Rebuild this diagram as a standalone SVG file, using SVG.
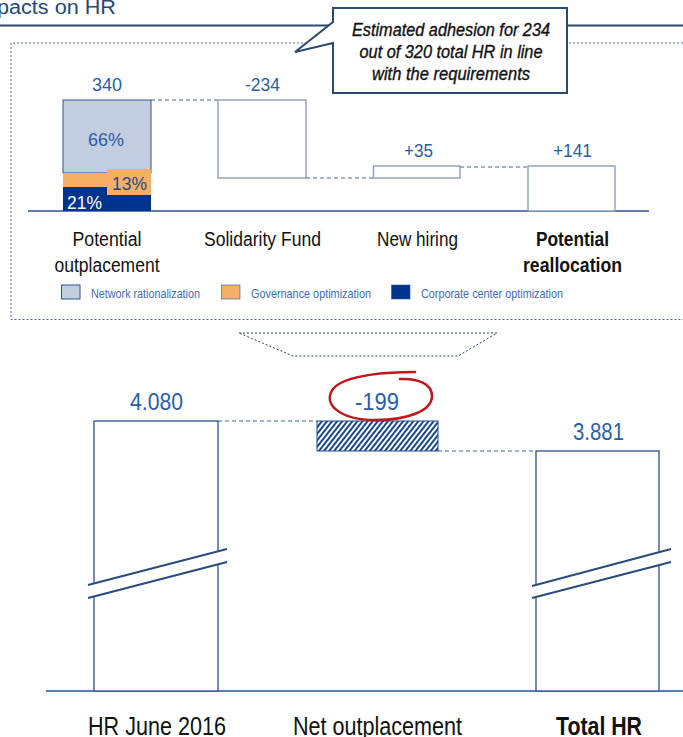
<svg xmlns="http://www.w3.org/2000/svg" width="683" height="737" viewBox="0 0 683 737">
<style>
text{font-family:"Liberation Sans",Arial,sans-serif}
.num{fill:#2a5ea6;text-anchor:middle}
.cat{fill:#111;text-anchor:middle}
.leg{fill:#3d6db3;font-size:13px}
.call{fill:#111;font-size:18px;font-style:italic;text-anchor:middle;stroke:#111;stroke-width:0.35}
.dash{fill:none;stroke:#7f9cc4;stroke-width:1.5;stroke-dasharray:4 3}
.ubar{fill:#fff;stroke:#8397b6;stroke-width:1.3}
.lbar{fill:#fff;stroke:#2e5090;stroke-width:1.3}
.brk{fill:none;stroke:#2a4b7c;stroke-width:2}
</style>
<defs>
<pattern id="hatch" width="4" height="4" patternUnits="userSpaceOnUse" patternTransform="rotate(38)">
<rect width="4" height="4" fill="#fff"/>
<line x1="1" y1="0" x2="1" y2="4" stroke="#0d3d85" stroke-width="1.9"/>
</pattern>
</defs>

<g id="title">
<text x="-3" y="13.5" font-size="19.5" fill="#244a75" textLength="119" lengthAdjust="spacingAndGlyphs">pacts on HR</text>
<line x1="0" y1="25.5" x2="330" y2="25.5" stroke="#2a4b6e" stroke-width="2"/>
<line x1="567" y1="25.5" x2="683" y2="25.5" stroke="#2a4b6e" stroke-width="2"/>
</g>

<g id="detail-frame">
<path d="M683,43 H11 V319.5 H683" fill="none" stroke="#4d6f9a" stroke-width="1" stroke-dasharray="2 2"/>
</g>

<g id="callout">
<path d="M333,8 H567 V93 H333 V43 L295,52 L333,22 Z" fill="#fff" stroke="#2a4b6e" stroke-width="2" stroke-linejoin="miter"/>
<text class="call" x="451" y="36" textLength="198" lengthAdjust="spacingAndGlyphs">Estimated adhesion for 234</text>
<text class="call" x="451" y="58" textLength="183" lengthAdjust="spacingAndGlyphs">out of 320 total HR in line</text>
<text class="call" x="451" y="80" textLength="158" lengthAdjust="spacingAndGlyphs">with the requirements</text>
</g>

<g id="connectors">
<path class="dash" d="M151,100 H218"/>
<path class="dash" d="M306,178 H373"/>
<path class="dash" d="M460,167 H528"/>
<path class="dash" d="M218,421 H317"/>
<path class="dash" d="M438,451 H536"/>
<line x1="28" y1="211" x2="649" y2="211" stroke="#2f5597" stroke-width="1.5"/>
<line x1="46" y1="691" x2="683" y2="691" stroke="#5b80b8" stroke-width="2"/>
</g>

<g id="potential-outplacement">
<rect x="63" y="100" width="88" height="73" fill="#c3cde0" stroke="#2f5597" stroke-width="1"/>
<rect x="63" y="173" width="88" height="14" fill="#f5b066"/>
<rect x="63" y="187" width="88" height="24" fill="#00338d"/>
<rect x="107" y="169" width="44" height="26" fill="#f5b066"/>
<text class="num" x="107" y="91" font-size="19" textLength="30" lengthAdjust="spacingAndGlyphs">340</text>
<text class="num" x="106" y="146" font-size="19" textLength="36" lengthAdjust="spacingAndGlyphs">66%</text>
<text x="129.5" y="190" font-size="19" fill="#1f4a85" text-anchor="middle" textLength="35" lengthAdjust="spacingAndGlyphs">13%</text>
<text x="84.5" y="209" font-size="19" fill="#fff" text-anchor="middle" textLength="35" lengthAdjust="spacingAndGlyphs">21%</text>
<text class="cat" x="107" y="246" font-size="19.5" textLength="69" lengthAdjust="spacingAndGlyphs">Potential</text>
<text class="cat" x="107" y="272" font-size="19.5" textLength="105" lengthAdjust="spacingAndGlyphs">outplacement</text>
</g>

<g id="solidarity-fund">
<rect class="ubar" x="218" y="100" width="88" height="78"/>
<text class="num" x="262.5" y="91" font-size="19" textLength="35" lengthAdjust="spacingAndGlyphs">-234</text>
<text class="cat" x="262.5" y="246" font-size="19.5" textLength="117" lengthAdjust="spacingAndGlyphs">Solidarity Fund</text>
</g>

<g id="new-hiring">
<rect class="ubar" x="373.5" y="166" width="86.5" height="12"/>
<text class="num" x="418.5" y="157" font-size="19" textLength="29" lengthAdjust="spacingAndGlyphs">+35</text>
<text class="cat" x="417.5" y="246" font-size="19.5" textLength="81" lengthAdjust="spacingAndGlyphs">New hiring</text>
</g>

<g id="potential-reallocation">
<rect class="ubar" x="528" y="166" width="87" height="45"/>
<text class="num" x="572.5" y="157" font-size="19" textLength="39" lengthAdjust="spacingAndGlyphs">+141</text>
<text class="cat" x="572.5" y="246" font-size="19.5" font-weight="bold" textLength="73" lengthAdjust="spacingAndGlyphs">Potential</text>
<text class="cat" x="572.5" y="272" font-size="19.5" font-weight="bold" textLength="99" lengthAdjust="spacingAndGlyphs">reallocation</text>
</g>

<g id="legend">
<rect x="61.5" y="285" width="18.5" height="14" fill="#c3cde0" stroke="#2f5597" stroke-width="1"/>
<text class="leg" x="91" y="297.5" textLength="109" lengthAdjust="spacingAndGlyphs">Network rationalization</text>
<rect x="221.5" y="285" width="18.5" height="14" fill="#f5b066" stroke="#2f5597" stroke-width="0.6"/>
<text class="leg" x="251" y="297.5" textLength="120" lengthAdjust="spacingAndGlyphs">Governance optimization</text>
<rect x="391.5" y="285" width="18.5" height="14" fill="#00338d" stroke="#2f5597" stroke-width="0.6"/>
<text class="leg" x="421" y="297.5" textLength="142" lengthAdjust="spacingAndGlyphs">Corporate center optimization</text>
</g>

<g id="zoom-trapezoid">
<path d="M239,333 H497 L458,356 H293 Z" fill="none" stroke="#2a4b6e" stroke-width="1" stroke-dasharray="2 2"/>
</g>

<g id="hr-june-2016">
<rect class="lbar" x="94" y="421" width="124" height="270"/>
<polygon points="86,585 229,548 229,562 86,599" fill="#fff"/>
<line class="brk" x1="88" y1="585" x2="227" y2="549"/>
<line class="brk" x1="88" y1="598" x2="227" y2="562"/>
<text class="num" x="156.5" y="410" font-size="24" textLength="53" lengthAdjust="spacingAndGlyphs">4.080</text>
<text class="cat" x="157" y="734.5" font-size="25" textLength="138" lengthAdjust="spacingAndGlyphs">HR June 2016</text>
</g>

<g id="net-outplacement">
<rect x="317" y="421" width="121" height="30" fill="url(#hatch)" stroke="#1b4b8f" stroke-width="1"/>
<text class="num" x="377" y="410" font-size="24" textLength="44" lengthAdjust="spacingAndGlyphs">-199</text>
<path d="M415,372 C392,372 345,374 333,389 C322,404 340,420 375,420 C410,420 432,410 432,396 C432,384 418,378 400,379" fill="none" stroke="#c0161b" stroke-width="2.5" stroke-linecap="round"/>
<text class="cat" x="377.5" y="734.5" font-size="25" textLength="169" lengthAdjust="spacingAndGlyphs">Net outplacement</text>
</g>

<g id="total-hr">
<rect class="lbar" x="536" y="451" width="123" height="240"/>
<polygon points="530,586 673,548 673,562 530,599" fill="#fff"/>
<line class="brk" x1="532" y1="586" x2="671" y2="549"/>
<line class="brk" x1="532" y1="598" x2="671" y2="562"/>
<text class="num" x="598.5" y="440" font-size="24" textLength="51" lengthAdjust="spacingAndGlyphs">3.881</text>
<text class="cat" x="599" y="734.5" font-size="25" font-weight="bold" textLength="86" lengthAdjust="spacingAndGlyphs">Total HR</text>
</g>
</svg>
